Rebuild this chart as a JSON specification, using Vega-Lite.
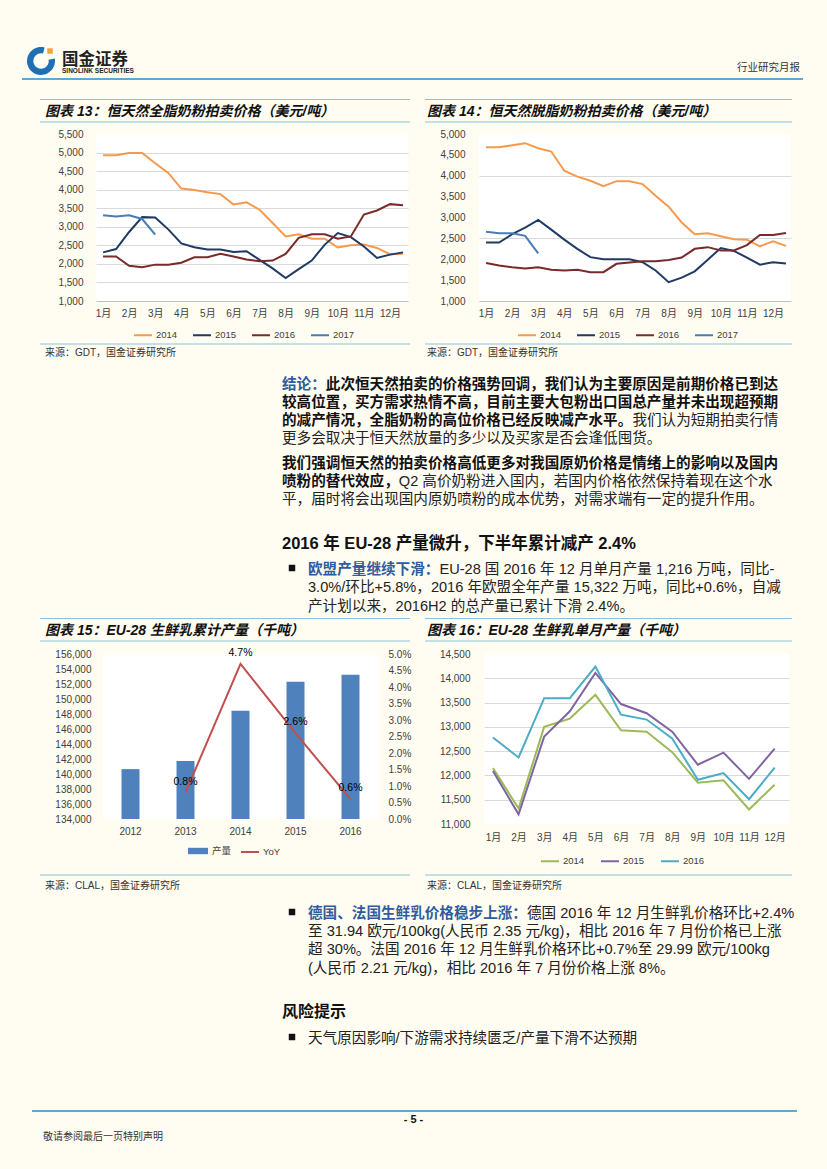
{
  "$schema": "https://vega.github.io/schema/vega-lite/v6.json",
  "background": "#FFFCF1",
  "padding": 0,
  "spacing": 0,
  "resolve": {"scale": {"color": "independent", "fill": "independent", "stroke": "independent"}, "legend": {"color": "independent", "fill": "independent", "stroke": "independent"}},
  "config": {
    "view": {"stroke": null},
    "font": "Liberation Sans, Noto Sans CJK SC",
    "axis": {"labelFont": "Liberation Sans, Noto Sans CJK SC", "labelColor": "#404040", "labelFontSize": 10, "ticks": false, "domain": false, "grid": false, "labelFlush": false, "labelOverlap": false},
    "legend": {"labelFont": "Liberation Sans, Noto Sans CJK SC", "labelColor": "#404040", "labelFontSize": 9.5}
  },
  "datasets": {
    "wmp": [
      {"i":1,"s":"2014","v":4930},{"i":2,"s":"2014","v":4930},{"i":3,"s":"2014","v":4990},{"i":4,"s":"2014","v":4990},{"i":5,"s":"2014","v":4710},{"i":6,"s":"2014","v":4450},{"i":7,"s":"2014","v":4030},{"i":8,"s":"2014","v":3990},{"i":9,"s":"2014","v":3930},{"i":10,"s":"2014","v":3880},{"i":11,"s":"2014","v":3600},{"i":12,"s":"2014","v":3660},{"i":13,"s":"2014","v":3460},{"i":14,"s":"2014","v":3100},{"i":15,"s":"2014","v":2740},{"i":16,"s":"2014","v":2800},{"i":17,"s":"2014","v":2680},{"i":18,"s":"2014","v":2680},{"i":19,"s":"2014","v":2440},{"i":20,"s":"2014","v":2500},{"i":21,"s":"2014","v":2520},{"i":22,"s":"2014","v":2430},{"i":23,"s":"2014","v":2260},{"i":24,"s":"2014","v":2270},
      {"i":1,"s":"2015","v":2310},{"i":2,"s":"2015","v":2400},{"i":3,"s":"2015","v":2860},{"i":4,"s":"2015","v":3260},{"i":5,"s":"2015","v":3250},{"i":6,"s":"2015","v":2930},{"i":7,"s":"2015","v":2550},{"i":8,"s":"2015","v":2450},{"i":9,"s":"2015","v":2390},{"i":10,"s":"2015","v":2390},{"i":11,"s":"2015","v":2320},{"i":12,"s":"2015","v":2340},{"i":13,"s":"2015","v":2110},{"i":14,"s":"2015","v":1880},{"i":15,"s":"2015","v":1620},{"i":16,"s":"2015","v":1860},{"i":17,"s":"2015","v":2090},{"i":18,"s":"2015","v":2520},{"i":19,"s":"2015","v":2830},{"i":20,"s":"2015","v":2720},{"i":21,"s":"2015","v":2470},{"i":22,"s":"2015","v":2160},{"i":23,"s":"2015","v":2250},{"i":24,"s":"2015","v":2310},
      {"i":1,"s":"2016","v":2200},{"i":2,"s":"2016","v":2200},{"i":3,"s":"2016","v":1950},{"i":4,"s":"2016","v":1910},{"i":5,"s":"2016","v":1980},{"i":6,"s":"2016","v":1980},{"i":7,"s":"2016","v":2030},{"i":8,"s":"2016","v":2180},{"i":9,"s":"2016","v":2180},{"i":10,"s":"2016","v":2270},{"i":11,"s":"2016","v":2200},{"i":12,"s":"2016","v":2120},{"i":13,"s":"2016","v":2070},{"i":14,"s":"2016","v":2090},{"i":15,"s":"2016","v":2270},{"i":16,"s":"2016","v":2700},{"i":17,"s":"2016","v":2800},{"i":18,"s":"2016","v":2800},{"i":19,"s":"2016","v":2680},{"i":20,"s":"2016","v":2740},{"i":21,"s":"2016","v":3330},{"i":22,"s":"2016","v":3440},{"i":23,"s":"2016","v":3610},{"i":24,"s":"2016","v":3580},
      {"i":1,"s":"2017","v":3310},{"i":2,"s":"2017","v":3280},{"i":3,"s":"2017","v":3310},{"i":4,"s":"2017","v":3210},{"i":5,"s":"2017","v":2790}
    ],
    "smp": [
      {"i":1,"s":"2014","v":4680},{"i":2,"s":"2014","v":4680},{"i":3,"s":"2014","v":4730},{"i":4,"s":"2014","v":4780},{"i":5,"s":"2014","v":4660},{"i":6,"s":"2014","v":4580},{"i":7,"s":"2014","v":4120},{"i":8,"s":"2014","v":3980},{"i":9,"s":"2014","v":3880},{"i":10,"s":"2014","v":3750},{"i":11,"s":"2014","v":3870},{"i":12,"s":"2014","v":3870},{"i":13,"s":"2014","v":3800},{"i":14,"s":"2014","v":3520},{"i":15,"s":"2014","v":3260},{"i":16,"s":"2014","v":2880},{"i":17,"s":"2014","v":2600},{"i":18,"s":"2014","v":2620},{"i":19,"s":"2014","v":2550},{"i":20,"s":"2014","v":2480},{"i":21,"s":"2014","v":2470},{"i":22,"s":"2014","v":2310},{"i":23,"s":"2014","v":2430},{"i":24,"s":"2014","v":2320},
      {"i":1,"s":"2015","v":2400},{"i":2,"s":"2015","v":2400},{"i":3,"s":"2015","v":2600},{"i":4,"s":"2015","v":2760},{"i":5,"s":"2015","v":2940},{"i":6,"s":"2015","v":2710},{"i":7,"s":"2015","v":2470},{"i":8,"s":"2015","v":2250},{"i":9,"s":"2015","v":2050},{"i":10,"s":"2015","v":2000},{"i":11,"s":"2015","v":2000},{"i":12,"s":"2015","v":2000},{"i":13,"s":"2015","v":1930},{"i":14,"s":"2015","v":1730},{"i":15,"s":"2015","v":1450},{"i":16,"s":"2015","v":1560},{"i":17,"s":"2015","v":1710},{"i":18,"s":"2015","v":1990},{"i":19,"s":"2015","v":2270},{"i":20,"s":"2015","v":2200},{"i":21,"s":"2015","v":2040},{"i":22,"s":"2015","v":1870},{"i":23,"s":"2015","v":1930},{"i":24,"s":"2015","v":1900},
      {"i":1,"s":"2016","v":1910},{"i":2,"s":"2016","v":1850},{"i":3,"s":"2016","v":1810},{"i":4,"s":"2016","v":1780},{"i":5,"s":"2016","v":1810},{"i":6,"s":"2016","v":1750},{"i":7,"s":"2016","v":1730},{"i":8,"s":"2016","v":1750},{"i":9,"s":"2016","v":1690},{"i":10,"s":"2016","v":1690},{"i":11,"s":"2016","v":1890},{"i":12,"s":"2016","v":1920},{"i":13,"s":"2016","v":1950},{"i":14,"s":"2016","v":1950},{"i":15,"s":"2016","v":1980},{"i":16,"s":"2016","v":2040},{"i":17,"s":"2016","v":2250},{"i":18,"s":"2016","v":2290},{"i":19,"s":"2016","v":2210},{"i":20,"s":"2016","v":2210},{"i":21,"s":"2016","v":2340},{"i":22,"s":"2016","v":2580},{"i":23,"s":"2016","v":2580},{"i":24,"s":"2016","v":2630},
      {"i":1,"s":"2017","v":2660},{"i":2,"s":"2017","v":2620},{"i":3,"s":"2017","v":2620},{"i":4,"s":"2017","v":2560},{"i":5,"s":"2017","v":2140}
    ],
    "annual": [
      {"year":"2012","prod":140650,"yoy":null},
      {"year":"2013","prod":141750,"yoy":0.008},
      {"year":"2014","prod":148450,"yoy":0.047},
      {"year":"2015","prod":152310,"yoy":0.026},
      {"year":"2016","prod":153220,"yoy":0.006}
    ],
    "monthly": [
      {"m":1,"s":"2014","v":12150},{"m":2,"s":"2014","v":11320},{"m":3,"s":"2014","v":13000},{"m":4,"s":"2014","v":13170},{"m":5,"s":"2014","v":13660},{"m":6,"s":"2014","v":12930},{"m":7,"s":"2014","v":12900},{"m":8,"s":"2014","v":12480},{"m":9,"s":"2014","v":11850},{"m":10,"s":"2014","v":11900},{"m":11,"s":"2014","v":11300},{"m":12,"s":"2014","v":11810},
      {"m":1,"s":"2015","v":12090},{"m":2,"s":"2015","v":11200},{"m":3,"s":"2015","v":12800},{"m":4,"s":"2015","v":13320},{"m":5,"s":"2015","v":14110},{"m":6,"s":"2015","v":13470},{"m":7,"s":"2015","v":13280},{"m":8,"s":"2015","v":12900},{"m":9,"s":"2015","v":12220},{"m":10,"s":"2015","v":12470},{"m":11,"s":"2015","v":11930},{"m":12,"s":"2015","v":12550},
      {"m":1,"s":"2016","v":12780},{"m":2,"s":"2016","v":12370},{"m":3,"s":"2016","v":13590},{"m":4,"s":"2016","v":13590},{"m":5,"s":"2016","v":14240},{"m":6,"s":"2016","v":13250},{"m":7,"s":"2016","v":13150},{"m":8,"s":"2016","v":12760},{"m":9,"s":"2016","v":11910},{"m":10,"s":"2016","v":12050},{"m":11,"s":"2016","v":11510},{"m":12,"s":"2016","v":12160}
    ]
  },
  "vconcat": [
    {
      "width": 827, "height": 129,
      "data": {"values": [{}]},
      "layer": [
        {"mark": {"type": "rule", "stroke": "#5FA8D3", "strokeWidth": 2}, "encoding": {"x": {"datum": 22, "type": "quantitative", "scale": {"domain": [0, 827], "nice": false, "zero": false}, "axis": null}, "x2": {"datum": 803}, "y": {"datum": 79, "type": "quantitative", "scale": {"domain": [0, 129], "nice": false, "zero": false, "reverse": true}, "axis": null}}},
        {"mark": {"type": "point", "shape": "M0.985,-0.174A1,1 0 1,1 0.259,-0.966L0.142,-0.531A0.55,0.55 0 1,0 0.542,-0.096Z", "size": 784, "filled": true, "fill": "#1F6FB5", "strokeWidth": 0, "opacity": 1}, "encoding": {"x": {"datum": 41, "axis": null}, "y": {"datum": 61, "axis": null}}},
        {"mark": {"type": "square", "size": 30, "fill": "#F2A33A", "opacity": 1}, "encoding": {"x": {"datum": 50, "axis": null}, "y": {"datum": 51, "axis": null}}},
        {"mark": {"type": "text", "text": "国金证券", "align": "left", "baseline": "alphabetic", "fontSize": 16.5, "fontWeight": "bold", "fill": "#222222"}, "encoding": {"x": {"datum": 62, "axis": null}, "y": {"datum": 64.5, "axis": null}}},
        {"mark": {"type": "text", "text": "SINOLINK SECURITIES", "align": "left", "baseline": "alphabetic", "fontSize": 6.5, "fontWeight": "bold", "fill": "#222222"}, "encoding": {"x": {"datum": 62, "axis": null}, "y": {"datum": 73, "axis": null}}},
        {"mark": {"type": "text", "text": "行业研究月报", "align": "right", "baseline": "alphabetic", "fontSize": 10.5, "fill": "#333333"}, "encoding": {"x": {"datum": 800, "axis": null}, "y": {"datum": 71, "axis": null}}},
        {"mark": {"type": "rule", "stroke": "#8DC2DE", "strokeWidth": 1.2}, "encoding": {"x": {"datum": 40, "axis": null}, "x2": {"datum": 410}, "y": {"datum": 99.5, "axis": null}}},
        {"mark": {"type": "rule", "stroke": "#8DC2DE", "strokeWidth": 1.2}, "encoding": {"x": {"datum": 40, "axis": null}, "x2": {"datum": 410}, "y": {"datum": 122, "axis": null}}},
        {"mark": {"type": "rule", "stroke": "#8DC2DE", "strokeWidth": 1.2}, "encoding": {"x": {"datum": 425, "axis": null}, "x2": {"datum": 792}, "y": {"datum": 99.5, "axis": null}}},
        {"mark": {"type": "rule", "stroke": "#8DC2DE", "strokeWidth": 1.2}, "encoding": {"x": {"datum": 425, "axis": null}, "x2": {"datum": 792}, "y": {"datum": 122, "axis": null}}},
        {"mark": {"type": "text", "text": "图表 13：恒天然全脂奶粉拍卖价格（美元/吨）", "align": "left", "baseline": "alphabetic", "fontSize": 14, "fontWeight": "bold", "fontStyle": "italic", "fill": "#111111"}, "encoding": {"x": {"datum": 45, "axis": null}, "y": {"datum": 115.5, "axis": null}}},
        {"mark": {"type": "text", "text": "图表 14：恒天然脱脂奶粉拍卖价格（美元/吨）", "align": "left", "baseline": "alphabetic", "fontSize": 14, "fontWeight": "bold", "fontStyle": "italic", "fill": "#111111"}, "encoding": {"x": {"datum": 427, "axis": null}, "y": {"datum": 115.5, "axis": null}}}
      ]
    },
    {
      "spacing": 31,
      "resolve": {"scale": {"color": "independent"}, "legend": {"color": "independent"}},
      "hconcat": [
        {"width": 26, "height": 209, "data": {"values": [{}]}, "mark": {"type": "point", "opacity": 0}},
        {
          "width": 312, "height": 167,
          "view": {"fill": "#FFFFFF", "stroke": null},
          "data": {"name": "wmp"},
          "mark": {"type": "line", "strokeWidth": 2},
          "encoding": {
            "x": {"field": "i", "type": "quantitative", "scale": {"domain": [0.46, 24.38], "nice": false, "zero": false}, "axis": {"values": [1,3,5,7,9,11,13,15,17,19,21,23], "labelExpr": "floor((datum.value + 1) / 2) + '月'", "domain": true, "domainColor": "#BFBFBF", "labelPadding": 7, "title": null}},
            "y": {"field": "v", "type": "quantitative", "scale": {"domain": [1000, 5500], "nice": false, "zero": false}, "axis": {"values": [1000,1500,2000,2500,3000,3500,4000,4500,5000,5500], "format": ",.0f", "grid": true, "gridColor": "#D9D9D9", "gridOpacity": {"condition": {"test": "datum.value >= 5500 || datum.value <= 1000", "value": 0}, "value": 1}, "labelPadding": 13, "title": null}},
            "color": {"field": "s", "type": "nominal", "scale": {"domain": ["2014","2015","2016","2017"], "range": ["#F59A4C","#1F3B63","#7A2A2A","#4A7DB5"]}, "legend": {"orient": "none", "legendX": 37, "legendY": 191, "direction": "horizontal", "title": null, "symbolType": "stroke", "symbolSize": 324, "symbolStrokeWidth": 2, "labelOffset": 3, "columnPadding": 11}}
          }
        },
        {
          "width": 312, "height": 167,
          "view": {"fill": "#FFFFFF", "stroke": null},
          "data": {"name": "smp"},
          "mark": {"type": "line", "strokeWidth": 2},
          "encoding": {
            "x": {"field": "i", "type": "quantitative", "scale": {"domain": [0.46, 24.38], "nice": false, "zero": false}, "axis": {"values": [1,3,5,7,9,11,13,15,17,19,21,23], "labelExpr": "floor((datum.value + 1) / 2) + '月'", "domain": true, "domainColor": "#BFBFBF", "labelPadding": 7, "title": null}},
            "y": {"field": "v", "type": "quantitative", "scale": {"domain": [1000, 5000], "nice": false, "zero": false}, "axis": {"values": [1000,1500,2000,2500,3000,3500,4000,4500,5000], "format": ",.0f", "grid": true, "gridColor": "#D9D9D9", "gridOpacity": {"condition": {"test": "datum.value == 4000 || datum.value == 2500", "value": 1}, "value": 0}, "labelPadding": 14, "title": null}},
            "color": {"field": "s", "type": "nominal", "scale": {"domain": ["2014","2015","2016","2017"], "range": ["#F59A4C","#1F3B63","#7A2A2A","#4A7DB5"]}, "legend": {"orient": "none", "legendX": 38, "legendY": 191, "direction": "horizontal", "title": null, "symbolType": "stroke", "symbolSize": 324, "symbolStrokeWidth": 2, "labelOffset": 3, "columnPadding": 11}}
          }
        }
      ]
    },
    {
      "width": 827, "height": 304,
      "data": {"values": [{}]},
      "layer": [
        {"mark": {"type": "rule", "stroke": "#8DC2DE", "strokeWidth": 1.2}, "encoding": {"x": {"datum": 40, "type": "quantitative", "scale": {"domain": [0, 827], "nice": false, "zero": false}, "axis": null}, "x2": {"datum": 410}, "y": {"datum": 344, "type": "quantitative", "scale": {"domain": [343, 647], "nice": false, "zero": false, "reverse": true}, "axis": null}}},
        {"mark": {"type": "rule", "stroke": "#8DC2DE", "strokeWidth": 1.2}, "encoding": {"x": {"datum": 425, "axis": null}, "x2": {"datum": 792}, "y": {"datum": 344, "axis": null}}},
        {"mark": {"type": "text", "text": "来源：GDT，国金证券研究所", "align": "left", "baseline": "alphabetic", "fontSize": 10, "fill": "#333333"}, "encoding": {"x": {"datum": 45, "axis": null}, "y": {"datum": 356, "axis": null}}},
        {"mark": {"type": "text", "text": "来源：GDT，国金证券研究所", "align": "left", "baseline": "alphabetic", "fontSize": 10, "fill": "#333333"}, "encoding": {"x": {"datum": 427, "axis": null}, "y": {"datum": 356, "axis": null}}},
        {"mark": {"type": "text", "text": "结论：", "align": "left", "baseline": "alphabetic", "fontSize": 14.6, "fontWeight": "bold", "fill": "#2F5C9E"}, "encoding": {"x": {"datum": 282, "axis": null}, "y": {"datum": 388.5, "axis": null}}},
        {"mark": {"type": "text", "text": "此次恒天然拍卖的价格强势回调，我们认为主要原因是前期价格已到达", "align": "left", "baseline": "alphabetic", "fontSize": 14.6, "fontWeight": "bold", "fill": "#111111"}, "encoding": {"x": {"datum": 325.8, "axis": null}, "y": {"datum": 388.5, "axis": null}}},
        {"mark": {"type": "text", "text": ["较高位置，买方需求热情不高，目前主要大包粉出口国总产量并未出现超预期", "的减产情况，全脂奶粉的高位价格已经反映减产水平。"], "lineHeight": 18, "align": "left", "baseline": "alphabetic", "fontSize": 14.6, "fontWeight": "bold", "fill": "#111111"}, "encoding": {"x": {"datum": 282, "axis": null}, "y": {"datum": 406.5, "axis": null}}},
        {"mark": {"type": "text", "text": "我们认为短期拍卖行情", "align": "left", "baseline": "alphabetic", "fontSize": 14.6, "fill": "#222222"}, "encoding": {"x": {"datum": 632.4, "axis": null}, "y": {"datum": 424.5, "axis": null}}},
        {"mark": {"type": "text", "text": "更多会取决于恒天然放量的多少以及买家是否会逢低囤货。", "align": "left", "baseline": "alphabetic", "fontSize": 14.6, "fill": "#222222"}, "encoding": {"x": {"datum": 282, "axis": null}, "y": {"datum": 442.5, "axis": null}}},
        {"mark": {"type": "text", "text": ["我们强调恒天然的拍卖价格高低更多对我国原奶价格是情绪上的影响以及国内", "喷粉的替代效应，"], "lineHeight": 18, "align": "left", "baseline": "alphabetic", "fontSize": 14.6, "fontWeight": "bold", "fill": "#111111"}, "encoding": {"x": {"datum": 282, "axis": null}, "y": {"datum": 467.5, "axis": null}}},
        {"mark": {"type": "text", "text": "Q2 高价奶粉进入国内，若国内价格依然保持着现在这个水", "align": "left", "baseline": "alphabetic", "fontSize": 14.6, "fill": "#222222"}, "encoding": {"x": {"datum": 398.8, "axis": null}, "y": {"datum": 485.5, "axis": null}}},
        {"mark": {"type": "text", "text": "平，届时将会出现国内原奶喷粉的成本优势，对需求端有一定的提升作用。", "align": "left", "baseline": "alphabetic", "fontSize": 14.6, "fill": "#222222"}, "encoding": {"x": {"datum": 282, "axis": null}, "y": {"datum": 503.5, "axis": null}}},
        {"mark": {"type": "text", "text": "2016 年 EU-28 产量微升，下半年累计减产 2.4%", "align": "left", "baseline": "alphabetic", "fontSize": 16.5, "fontWeight": "bold", "fill": "#111111"}, "encoding": {"x": {"datum": 282, "axis": null}, "y": {"datum": 549, "axis": null}}},
        {"mark": {"type": "square", "size": 42, "fill": "#111111", "opacity": 1}, "encoding": {"x": {"datum": 292, "axis": null}, "y": {"datum": 568, "axis": null}}},
        {"mark": {"type": "text", "text": "欧盟产量继续下滑：", "align": "left", "baseline": "alphabetic", "fontSize": 14.6, "fontWeight": "bold", "fill": "#2F5C9E"}, "encoding": {"x": {"datum": 308, "axis": null}, "y": {"datum": 573.5, "axis": null}}},
        {"mark": {"type": "text", "text": "EU-28 国 2016 年 12 月单月产量 1,216 万吨，同比-", "align": "left", "baseline": "alphabetic", "fontSize": 14.6, "fill": "#222222"}, "encoding": {"x": {"datum": 439.4, "axis": null}, "y": {"datum": 573.5, "axis": null}}},
        {"mark": {"type": "text", "text": ["3.0%/环比+5.8%，2016 年欧盟全年产量 15,322 万吨，同比+0.6%，自减", "产计划以来，2016H2 的总产量已累计下滑 2.4%。"], "lineHeight": 18.5, "align": "left", "baseline": "alphabetic", "fontSize": 14.6, "fill": "#222222"}, "encoding": {"x": {"datum": 308, "axis": null}, "y": {"datum": 592, "axis": null}}},
        {"mark": {"type": "rule", "stroke": "#8DC2DE", "strokeWidth": 1.2}, "encoding": {"x": {"datum": 40, "axis": null}, "x2": {"datum": 410}, "y": {"datum": 618.5, "axis": null}}},
        {"mark": {"type": "rule", "stroke": "#8DC2DE", "strokeWidth": 1.2}, "encoding": {"x": {"datum": 40, "axis": null}, "x2": {"datum": 410}, "y": {"datum": 641, "axis": null}}},
        {"mark": {"type": "rule", "stroke": "#8DC2DE", "strokeWidth": 1.2}, "encoding": {"x": {"datum": 425, "axis": null}, "x2": {"datum": 792}, "y": {"datum": 618.5, "axis": null}}},
        {"mark": {"type": "rule", "stroke": "#8DC2DE", "strokeWidth": 1.2}, "encoding": {"x": {"datum": 425, "axis": null}, "x2": {"datum": 792}, "y": {"datum": 641, "axis": null}}},
        {"mark": {"type": "text", "text": "图表 15：EU-28 生鲜乳累计产量（千吨）", "align": "left", "baseline": "alphabetic", "fontSize": 14, "fontWeight": "bold", "fontStyle": "italic", "fill": "#111111"}, "encoding": {"x": {"datum": 45, "axis": null}, "y": {"datum": 634.5, "axis": null}}},
        {"mark": {"type": "text", "text": "图表 16：EU-28 生鲜乳单月产量（千吨）", "align": "left", "baseline": "alphabetic", "fontSize": 14, "fontWeight": "bold", "fontStyle": "italic", "fill": "#111111"}, "encoding": {"x": {"datum": 427, "axis": null}, "y": {"datum": 634.5, "axis": null}}}
      ]
    },
    {
      "spacing": 28,
      "resolve": {"scale": {"color": "independent", "fill": "independent", "stroke": "independent"}, "legend": {"color": "independent", "fill": "independent", "stroke": "independent"}},
      "hconcat": [
        {"width": 26, "height": 220, "data": {"values": [{}]}, "mark": {"type": "point", "opacity": 0}},
        {
          "width": 275, "height": 165,
          "view": {"fill": "#FFFFFF", "stroke": null},
          "data": {"name": "annual"},
          "layer": [
            {
              "mark": {"type": "bar", "width": 18},
              "encoding": {
                "x": {"field": "year", "type": "ordinal", "scale": {"paddingInner": 0, "paddingOuter": 0}, "axis": {"labelPadding": 7, "labelAngle": 0, "title": null}},
                "y": {"field": "prod", "type": "quantitative", "scale": {"domain": [134000, 156000], "nice": false, "zero": false}, "axis": {"orient": "left", "values": [134000,136000,138000,140000,142000,144000,146000,148000,150000,152000,154000,156000], "format": ",.0f", "labelPadding": 12, "title": null}},
                "y2": {"datum": 134000},
                "fill": {"datum": "产量", "type": "nominal", "scale": {"range": ["#4F81BD"]}, "legend": {"orient": "none", "legendX": 85, "legendY": 187, "title": null, "symbolType": "M-1,-0.32H1V0.32H-1Z", "symbolSize": 400, "symbolStrokeWidth": 0, "labelOffset": 4}}
              }
            },
            {
              "transform": [{"filter": "isValid(datum.yoy)"}],
              "encoding": {
                "x": {"field": "year", "type": "ordinal"},
                "y": {"field": "yoy", "type": "quantitative", "scale": {"domain": [0, 0.05], "nice": false}, "axis": {"orient": "right", "values": [0,0.005,0.01,0.015,0.02,0.025,0.03,0.035,0.04,0.045,0.05], "format": ".1%", "labelPadding": 10, "title": null}}
              },
              "layer": [
                {"mark": {"type": "line", "strokeWidth": 2}, "encoding": {"stroke": {"datum": "YoY", "type": "nominal", "scale": {"range": ["#C0504D"]}, "legend": {"orient": "none", "legendX": 137, "legendY": 188, "title": null, "symbolType": "stroke", "symbolSize": 324, "symbolStrokeWidth": 2, "labelOffset": 3}}}},
                {"mark": {"type": "text", "dy": -11, "fontSize": 10.5, "fill": "#000000"}, "encoding": {"text": {"field": "yoy", "type": "quantitative", "format": ".1%"}}}
              ]
            }
          ],
          "resolve": {"scale": {"y": "independent"}}
        },
        {
          "width": 305, "height": 170,
          "view": {"fill": "#FFFFFF", "stroke": null},
          "data": {"name": "monthly"},
          "mark": {"type": "line", "strokeWidth": 2},
          "encoding": {
            "x": {"field": "m", "type": "quantitative", "scale": {"domain": [0.65, 12.56], "nice": false, "zero": false}, "axis": {"values": [1,2,3,4,5,6,7,8,9,10,11,12], "labelExpr": "datum.value + '月'", "labelPadding": 8, "title": null}},
            "y": {"field": "v", "type": "quantitative", "scale": {"domain": [11000, 14500], "nice": false, "zero": false}, "axis": {"values": [11000,11500,12000,12500,13000,13500,14000,14500], "format": ",.0f", "grid": true, "gridColor": "#D9D9D9", "gridOpacity": {"condition": {"test": "datum.value >= 14500 || datum.value <= 11000", "value": 0}, "value": 1}, "labelPadding": 14, "title": null}},
            "color": {"field": "s", "type": "nominal", "scale": {"domain": ["2014","2015","2016"], "range": ["#9BBB59","#8064A2","#4BACC6"]}, "legend": {"orient": "none", "legendX": 56, "legendY": 197, "direction": "horizontal", "title": null, "symbolType": "stroke", "symbolSize": 324, "symbolStrokeWidth": 2, "labelOffset": 3, "columnPadding": 12}}
          }
        }
      ]
    },
    {
      "width": 827, "height": 296,
      "data": {"values": [{}]},
      "layer": [
        {"mark": {"type": "rule", "stroke": "#8DC2DE", "strokeWidth": 1.2}, "encoding": {"x": {"datum": 40, "type": "quantitative", "scale": {"domain": [0, 827], "nice": false, "zero": false}, "axis": null}, "x2": {"datum": 410}, "y": {"datum": 874, "type": "quantitative", "scale": {"domain": [873, 1169], "nice": false, "zero": false, "reverse": true}, "axis": null}}},
        {"mark": {"type": "rule", "stroke": "#8DC2DE", "strokeWidth": 1.2}, "encoding": {"x": {"datum": 425, "axis": null}, "x2": {"datum": 792}, "y": {"datum": 874, "axis": null}}},
        {"mark": {"type": "text", "text": "来源：CLAL，国金证券研究所", "align": "left", "baseline": "alphabetic", "fontSize": 10, "fill": "#333333"}, "encoding": {"x": {"datum": 45, "axis": null}, "y": {"datum": 888, "axis": null}}},
        {"mark": {"type": "text", "text": "来源：CLAL，国金证券研究所", "align": "left", "baseline": "alphabetic", "fontSize": 10, "fill": "#333333"}, "encoding": {"x": {"datum": 427, "axis": null}, "y": {"datum": 888, "axis": null}}},
        {"mark": {"type": "square", "size": 42, "fill": "#111111", "opacity": 1}, "encoding": {"x": {"datum": 292, "axis": null}, "y": {"datum": 911, "axis": null}}},
        {"mark": {"type": "text", "text": "德国、法国生鲜乳价格稳步上涨：", "align": "left", "baseline": "alphabetic", "fontSize": 14.6, "fontWeight": "bold", "fill": "#2F5C9E"}, "encoding": {"x": {"datum": 308, "axis": null}, "y": {"datum": 916.5, "axis": null}}},
        {"mark": {"type": "text", "text": "德国 2016 年 12 月生鲜乳价格环比+2.4%", "align": "left", "baseline": "alphabetic", "fontSize": 14.6, "fill": "#222222"}, "encoding": {"x": {"datum": 527, "axis": null}, "y": {"datum": 916.5, "axis": null}}},
        {"mark": {"type": "text", "text": ["至 31.94 欧元/100kg(人民币 2.35 元/kg)，相比 2016 年 7 月份价格已上涨", "超 30%。法国 2016 年 12 月生鲜乳价格环比+0.7%至 29.99 欧元/100kg", "(人民币 2.21 元/kg)，相比 2016 年 7 月份价格上涨 8%。"], "lineHeight": 18.3, "align": "left", "baseline": "alphabetic", "fontSize": 14.6, "fill": "#222222"}, "encoding": {"x": {"datum": 308, "axis": null}, "y": {"datum": 935, "axis": null}}},
        {"mark": {"type": "text", "text": "风险提示", "align": "left", "baseline": "alphabetic", "fontSize": 16, "fontWeight": "bold", "fill": "#111111"}, "encoding": {"x": {"datum": 282, "axis": null}, "y": {"datum": 1016, "axis": null}}},
        {"mark": {"type": "square", "size": 42, "fill": "#111111", "opacity": 1}, "encoding": {"x": {"datum": 292, "axis": null}, "y": {"datum": 1036, "axis": null}}},
        {"mark": {"type": "text", "text": "天气原因影响/下游需求持续匮乏/产量下滑不达预期", "align": "left", "baseline": "alphabetic", "fontSize": 14.6, "fill": "#222222"}, "encoding": {"x": {"datum": 308, "axis": null}, "y": {"datum": 1041.5, "axis": null}}},
        {"mark": {"type": "rule", "stroke": "#5FA8D3", "strokeWidth": 2}, "encoding": {"x": {"datum": 32, "axis": null}, "x2": {"datum": 797}, "y": {"datum": 1110, "axis": null}}},
        {"mark": {"type": "text", "text": "- 5 -", "align": "center", "baseline": "alphabetic", "fontSize": 11, "fontWeight": "bold", "fill": "#111111"}, "encoding": {"x": {"datum": 413.5, "axis": null}, "y": {"datum": 1122, "axis": null}}},
        {"mark": {"type": "text", "text": "敬请参阅最后一页特别声明", "align": "left", "baseline": "alphabetic", "fontSize": 10, "fill": "#333333"}, "encoding": {"x": {"datum": 43, "axis": null}, "y": {"datum": 1139, "axis": null}}}
      ]
    }
  ]
}
